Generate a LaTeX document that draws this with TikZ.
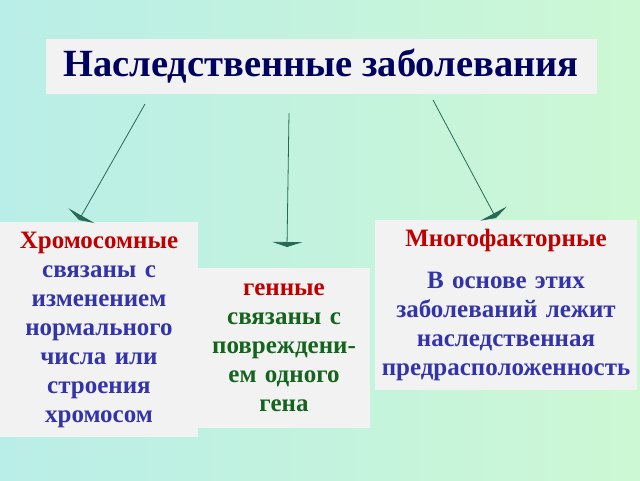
\documentclass[tikz,border=0pt]{standalone}
\usepackage{fontspec}
\setmainfont{Liberation Serif}
\usetikzlibrary{arrows.meta}
\definecolor{boxfill}{RGB}{242,242,242}
\definecolor{navy}{RGB}{0,0,96}
\definecolor{hred}{RGB}{192,0,0}
\definecolor{hblue}{RGB}{51,51,170}
\definecolor{hgreen}{RGB}{20,100,30}
\definecolor{arrowc}{RGB}{40,105,85}
\definecolor{bgl}{RGB}{185,238,232}
\definecolor{bgr}{RGB}{205,248,212}
\tikzset{
  panel/.style={fill=boxfill, inner sep=0pt, align=center, font=\bfseries\fontsize{25}{29}\selectfont},
  arr/.style={draw=arrowc, line width=0.8pt, -{Triangle[width=30pt,length=5pt]}}
}
\begin{document}
\begin{tikzpicture}[x=1pt,y=-1pt]
\useasboundingbox (0,0) rectangle (640,480);
\shade[left color=bgl, right color=bgr] (0,0) rectangle (640,480);
\node[fill=boxfill, minimum width=551pt, minimum height=55pt, inner sep=0pt,
      font=\bfseries\fontsize{38.5}{40}\selectfont, text=navy] (title) at (321,66) {Наследственные заболевания};
\node[panel, minimum width=198pt, minimum height=215pt, text width=198pt] (chrom) at (99,329.5)
  {\textcolor{hred}{Хромосомные}\\\textcolor{hblue}{связаны с\\изменением\\нормального\\числа или\\строения\\хромосом}};
\node[panel, minimum width=172pt, minimum height=160pt, text width=172pt] (gene) at (284,348)
  {\textcolor{hred}{генные}\\\textcolor{hgreen}{связаны с\\повреждени-\\ем одного\\гена}};
\node[panel, minimum width=262pt, minimum height=170pt, text width=262pt] (multi) at (506,305)
  {\textcolor{hred}{Многофакторные}\\[13pt]\textcolor{hblue}{В основе этих\\заболеваний лежит\\наследственная\\предрасположенность}};
\coordinate (s1) at (145,104);
\coordinate (e1) at (79,220);
\coordinate (s2) at (289,113);
\coordinate (e2) at (287,247);
\coordinate (s3) at (433,100);
\coordinate (e3) at (496,218);
\draw[arr] (s1) -- (e1);
\draw[arr] (s2) -- (e2);
\draw[arr] (s3) -- (e3);
\end{tikzpicture}
\end{document}
